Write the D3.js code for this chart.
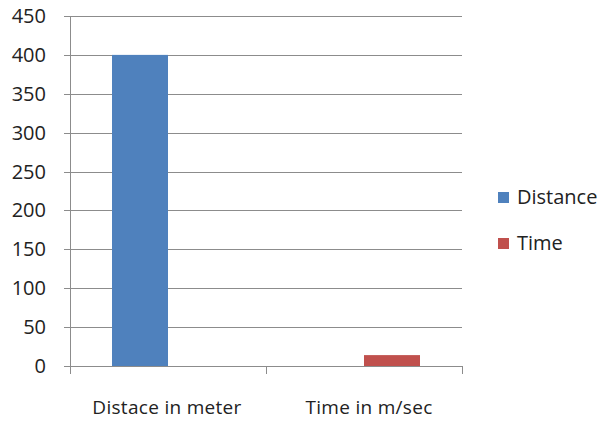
<!DOCTYPE html>
<html>
<head>
<meta charset="utf-8">
<script src="https://cdn.jsdelivr.net/npm/d3@7"></script>
<style>
  body { margin: 0; background: #fff; }
  text { font-family: "Open Sans", sans-serif; fill: #222; }
</style>
</head>
<body>
<div id="container"></div>
<script>
// chart data
const categories = ["Distace in meter", "Time in m/sec"];
const seriesNames = ["Distance", "Time"];
const distanceValues = [400, 0];
const timeValues = [0, 14];
const yTicks = [0, 50, 100, 150, 200, 250, 300, 350, 400, 450];
const colors = ["#4F81BD", "#C0504D"];

const width = 602, height = 421;
const margin = { left: 70, right: 140, top: 16, bottom: 55 };

const svg = d3.select("#container")
  .append("svg")
  .attr("width", width)
  .attr("height", height);

const x = d3.scaleBand()
  .domain(categories)
  .range([margin.left, width - margin.right]);

// Excel style: gap width 150%
const inner = d3.scaleBand()
  .domain(seriesNames)
  .range([x.bandwidth() * 0.75 / 3.5, x.bandwidth() - x.bandwidth() * 0.75 / 3.5]);

const y = d3.scaleLinear()
  .domain([0, 450])
  .range([height - margin.bottom, margin.top]);

// gridlines
svg.append("g")
  .selectAll("line")
  .data(yTicks)
  .enter().append("line")
  .attr("x1", margin.left - 6)
  .attr("x2", width - margin.right)
  .attr("y1", d => Math.round(y(d)) + 0.5)
  .attr("y2", d => Math.round(y(d)) + 0.5)
  .attr("stroke", "#8c8c8c")
  .attr("stroke-width", 1);

// y labels
svg.append("g")
  .selectAll("text")
  .data(yTicks)
  .enter().append("text")
  .attr("x", margin.left - 24)
  .attr("y", d => y(d))
  .attr("dy", "0.35em")
  .attr("text-anchor", "end")
  .style("font-size", "20px")
  .text(d => d);

// bars
const series = [distanceValues, timeValues];
seriesNames.forEach((name, i) => {
  svg.append("g")
    .selectAll("rect")
    .data(categories.map((c, j) => ({ cat: c, value: series[i][j] })))
    .enter().append("rect")
    .attr("x", d => x(d.cat) + inner(name))
    .attr("width", inner.bandwidth())
    .attr("y", d => y(d.value))
    .attr("height", d => y(0) - y(d.value))
    .attr("fill", colors[i]);
});

// axes lines
const axisColor = "#8c8c8c";
svg.append("line")
  .attr("x1", margin.left + 0.5).attr("x2", margin.left + 0.5)
  .attr("y1", margin.top).attr("y2", y(0) + 8)
  .attr("stroke", axisColor);

const bounds = [margin.left, margin.left + x.step(), width - margin.right];
svg.append("g")
  .selectAll("line")
  .data(bounds)
  .enter().append("line")
  .attr("x1", d => Math.round(d) + 0.5).attr("x2", d => Math.round(d) + 0.5)
  .attr("y1", y(0)).attr("y2", y(0) + 8)
  .attr("stroke", axisColor);

// category labels
svg.append("g")
  .selectAll("text")
  .data(categories)
  .enter().append("text")
  .attr("x", (d, i) => x(d) + x.bandwidth() / 2 + (i ? 5 : -1))
  .attr("y", 414)
  .attr("text-anchor", "middle")
  .style("font-size", "19px")
  .style("letter-spacing", "0.3px")
  .text(d => d);

// legend
const legend = svg.append("g")
  .selectAll("g")
  .data(seriesNames)
  .enter().append("g")
  .attr("transform", (d, i) => `translate(498, ${197 + i * 46})`);

legend.append("rect")
  .attr("x", 0).attr("y", -5)
  .attr("width", 11).attr("height", 11)
  .attr("fill", (d, i) => colors[i]);

legend.append("text")
  .attr("x", 19).attr("y", 0)
  .attr("dy", "0.35em")
  .style("font-size", "20px")
  .text(d => d);
</script>
</body>
</html>
